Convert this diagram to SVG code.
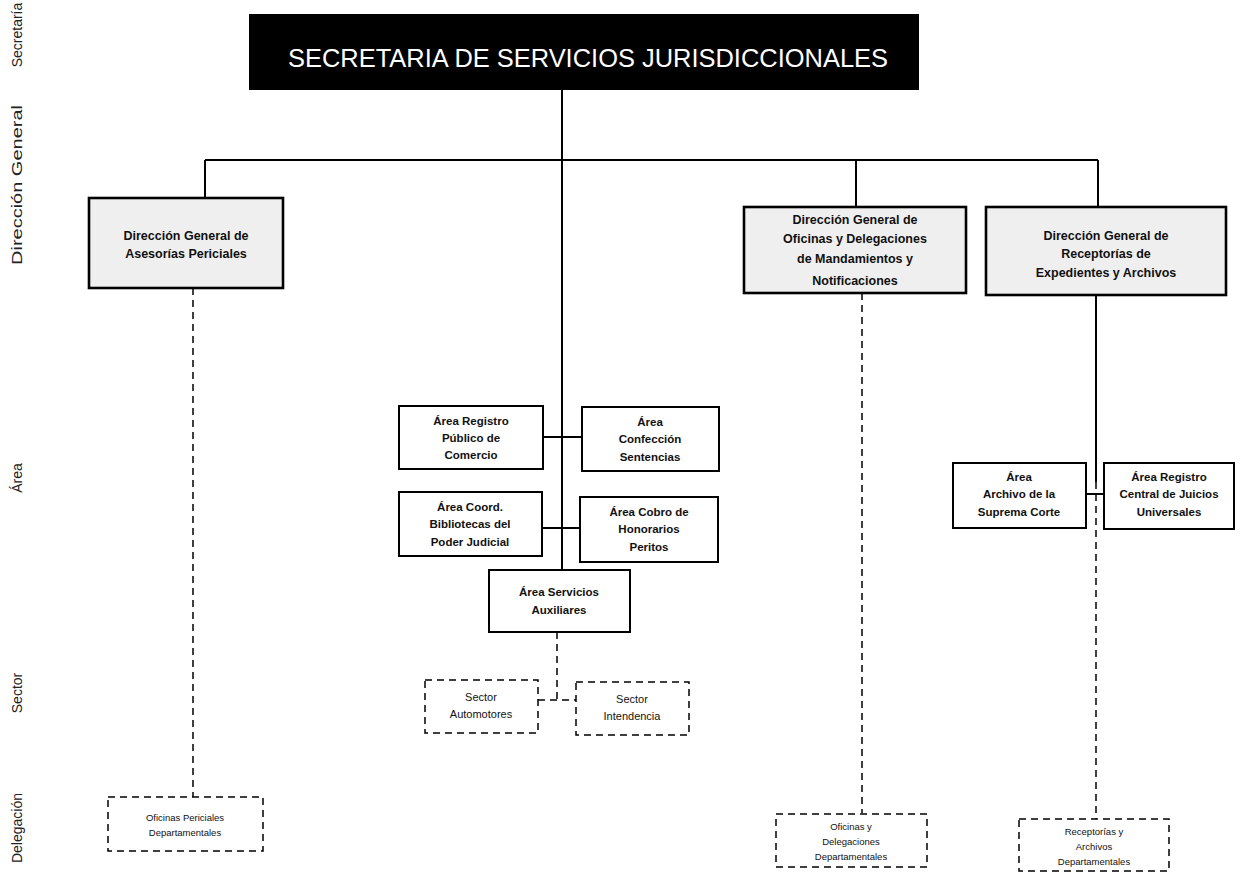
<svg xmlns="http://www.w3.org/2000/svg" width="1240" height="877" viewBox="0 0 1240 877">
<defs>
<style>
.side{font-family:"Liberation Sans",Arial,sans-serif;font-size:14px;fill:#222}
.dg{fill:#efefef;stroke:#000;stroke-width:2.6}
.dgt{font-family:"Liberation Sans",Arial,sans-serif;font-size:12.5px;font-weight:bold;fill:#111;text-anchor:middle}
.ar{fill:#fff;stroke:#000;stroke-width:2}
.art{font-family:"Liberation Sans",Arial,sans-serif;font-size:11.5px;font-weight:bold;fill:#111;text-anchor:middle}
.dsh{fill:#fff;stroke:#000;stroke-width:1.5;stroke-dasharray:7 5}
.sct{font-family:"Liberation Sans",Arial,sans-serif;font-size:11px;fill:#111;text-anchor:middle}
.dlt{font-family:"Liberation Sans",Arial,sans-serif;font-size:9.5px;fill:#111;text-anchor:middle}
.ln{fill:none;stroke:#000;stroke-width:2}
.dl{fill:none;stroke:#000;stroke-width:1.5;stroke-dasharray:7 5}
</style>
</defs>
<rect width="1240" height="877" fill="#fff"/>
<g id="side-labels">
<text class="side" transform="translate(22,35) rotate(-90)" text-anchor="middle">Secretaría</text>
<text class="side" transform="translate(22,185) rotate(-90)" text-anchor="middle" textLength="160" lengthAdjust="spacingAndGlyphs">Dirección General</text>
<text class="side" transform="translate(22,478) rotate(-90)" text-anchor="middle">Área</text>
<text class="side" transform="translate(22,693) rotate(-90)" text-anchor="middle">Sector</text>
<text class="side" transform="translate(22,828) rotate(-90)" text-anchor="middle">Delegación</text>
</g>
<g id="connectors">
<path class="ln" d="M562 90V570M205 160H1098M205 160V198M856 160V207M1098 160V207M1096 295V482M543 437H582M542 528H580M1086 494H1104"/>
<path class="dl" d="M193 288V797M862 293V813M1096 482V819M557 632V700M538 700H576"/>
</g>
<g id="secretaria">
<rect x="249" y="14" width="670" height="76" fill="#000"/>
<text x="588" y="67" font-family="'Liberation Sans',Arial,sans-serif" font-size="25" fill="#fff" text-anchor="middle" textLength="600" lengthAdjust="spacingAndGlyphs">SECRETARIA DE SERVICIOS JURISDICCIONALES</text>
</g>
<g id="dg-asesorias">
<rect class="dg" x="89" y="198" width="194" height="90"/>
<text class="dgt" x="186" y="240">Dirección General de</text>
<text class="dgt" x="186" y="258">Asesorías Periciales</text>
</g>
<g id="dg-oficinas">
<rect class="dg" x="744" y="207" width="222" height="86"/>
<text class="dgt" x="855" y="224">Dirección General de</text>
<text class="dgt" x="855" y="243">Oficinas y Delegaciones</text>
<text class="dgt" x="855" y="263">de Mandamientos y</text>
<text class="dgt" x="855" y="285">Notificaciones</text>
</g>
<g id="dg-receptorias">
<rect class="dg" x="986" y="207" width="240" height="88"/>
<text class="dgt" x="1106" y="240">Dirección General de</text>
<text class="dgt" x="1106" y="258">Receptorías de</text>
<text class="dgt" x="1106" y="277">Expedientes y Archivos</text>
</g>
<g id="area-registro-publico">
<rect class="ar" x="399" y="406" width="144" height="63"/>
<text class="art" x="471" y="425">Área Registro</text>
<text class="art" x="471" y="442">Público de</text>
<text class="art" x="471" y="459">Comercio</text>
</g>
<g id="area-confeccion">
<rect class="ar" x="582" y="407" width="137" height="64"/>
<text class="art" x="650" y="426">Área</text>
<text class="art" x="650" y="443">Confección</text>
<text class="art" x="650" y="461">Sentencias</text>
</g>
<g id="area-bibliotecas">
<rect class="ar" x="399" y="492" width="143" height="64"/>
<text class="art" x="470" y="511">Área Coord.</text>
<text class="art" x="470" y="528">Bibliotecas del</text>
<text class="art" x="470" y="546">Poder Judicial</text>
</g>
<g id="area-cobro">
<rect class="ar" x="580" y="497" width="138" height="65"/>
<text class="art" x="649" y="516">Área Cobro de</text>
<text class="art" x="649" y="533">Honorarios</text>
<text class="art" x="649" y="551">Peritos</text>
</g>
<g id="area-servicios">
<rect class="ar" x="489" y="570" width="141" height="62"/>
<text class="art" x="559" y="596">Área Servicios</text>
<text class="art" x="559" y="614">Auxiliares</text>
</g>
<g id="area-archivo">
<rect class="ar" x="953" y="463" width="133" height="65"/>
<text class="art" x="1019" y="481">Área</text>
<text class="art" x="1019" y="498">Archivo de la</text>
<text class="art" x="1019" y="516">Suprema Corte</text>
</g>
<g id="area-registro-central">
<rect class="ar" x="1104" y="463" width="130" height="66"/>
<text class="art" x="1169" y="481">Área Registro</text>
<text class="art" x="1169" y="498">Central de Juicios</text>
<text class="art" x="1169" y="516">Universales</text>
</g>
<g id="sector-automotores">
<rect class="dsh" x="425" y="680" width="113" height="53"/>
<text class="sct" x="481" y="701">Sector</text>
<text class="sct" x="481" y="718">Automotores</text>
</g>
<g id="sector-intendencia">
<rect class="dsh" x="576" y="682" width="113" height="53"/>
<text class="sct" x="632" y="703">Sector</text>
<text class="sct" x="632" y="720">Intendencia</text>
</g>
<g id="oficinas-periciales">
<rect class="dsh" x="108" y="797" width="155" height="54"/>
<text class="dlt" x="185" y="821">Oficinas Periciales</text>
<text class="dlt" x="185" y="836">Departamentales</text>
</g>
<g id="oficinas-delegaciones">
<rect class="dsh" x="776" y="814" width="151" height="53"/>
<text class="dlt" x="851" y="830">Oficinas y</text>
<text class="dlt" x="851" y="845">Delegaciones</text>
<text class="dlt" x="851" y="860">Departamentales</text>
</g>
<g id="receptorias-archivos">
<rect class="dsh" x="1019" y="819" width="150" height="52"/>
<text class="dlt" x="1094" y="835">Receptorías y</text>
<text class="dlt" x="1094" y="850">Archivos</text>
<text class="dlt" x="1094" y="865">Departamentales</text>
</g>
</svg>
